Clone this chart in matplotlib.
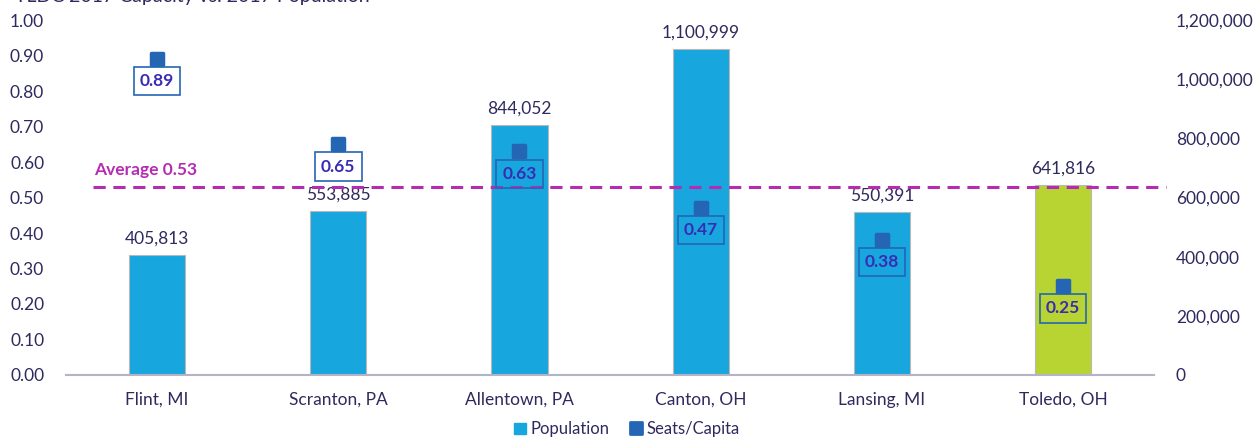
import matplotlib

matplotlib.use("Agg")
import matplotlib.pyplot as plt
from matplotlib.lines import Line2D
from matplotlib.markers import MarkerStyle
from matplotlib.patches import Patch
from matplotlib.ticker import FuncFormatter

cities = ["Flint, MI", "Scranton, PA", "Allentown, PA", "Canton, OH", "Lansing, MI", "Toledo, OH"]
population = [405813, 553885, 844052, 1100999, 550391, 641816]
seats_per_capita = [0.89, 0.65, 0.63, 0.47, 0.38, 0.25]
average = 0.53

bar_blue = "#17A6DE"
toledo_green = "#B8D432"
marker_blue = "#2566B4"
label_purple = "#3A2BB5"
avg_color = "#B52CB2"
text_color = "#2E2A5E"

plt.rcParams["font.family"] = ["Lato", "DejaVu Sans"]

fig = plt.figure(figsize=(12.54, 4.38), dpi=100)
ax = fig.add_axes([0.053, 0.144, 0.867, 0.810])
ax2 = ax.twinx()

x = list(range(len(cities)))
colors = [bar_blue] * (len(cities) - 1) + [toledo_green]

# population bars on the right axis
ax2.bar(x, population, width=0.31, color=colors, edgecolor="#B8B8B8", linewidth=0.8, zorder=2)
for xi, p in zip(x, population):
    ax2.annotate(f"{p:,}", (xi, p), xytext=(0, 6), textcoords="offset points",
                 ha="center", va="bottom", fontsize=12.5, color=text_color)
ax2.set_ylim(0, 1200000)
ax2.set_yticks(range(0, 1200001, 200000))
ax2.yaxis.set_major_formatter(FuncFormatter(lambda v, _: f"{int(v):,}"))

# seats per capita markers on the left axis
ax.set_zorder(ax2.get_zorder() + 1)
ax.patch.set_visible(False)
rounded_square = MarkerStyle("s", joinstyle="round")
ax.scatter(x, seats_per_capita, marker=rounded_square, s=70, color=marker_blue,
           edgecolors=marker_blue, linewidths=2.5, zorder=4)
for xi, v in zip(x, seats_per_capita):
    ax.annotate(f"{v:.2f}", (xi, v), xytext=(0, -16), textcoords="offset points",
                ha="center", va="center", fontsize=12.5, fontweight="bold", color=label_purple,
                bbox=dict(boxstyle="square,pad=0.35", fc="none", ec=marker_blue, lw=1.2), zorder=5)

ax.plot([-0.354, 5.57], [average, average], ls=(0, (4, 2.5)), lw=2.2, color=avg_color,
        clip_on=False, zorder=3)
ax.text(-0.345, average + 0.025, f"Average {average:.2f}", fontsize=12.5, fontweight="bold",
        color=avg_color, ha="left", va="bottom")

ax.set_ylim(0, 1.0)
ax.set_yticks([i / 10 for i in range(11)])
ax.yaxis.set_major_formatter(FuncFormatter(lambda v, _: f"{v:.2f}"))
ax.set_xlim(-0.5, len(cities) - 0.5)
ax.set_xticks(x)
ax.set_xticklabels(cities)

for a in (ax, ax2):
    for s in a.spines.values():
        s.set_visible(False)
    a.tick_params(length=0, labelsize=12.5, labelcolor=text_color)
ax.tick_params(axis="y", pad=16)
ax2.tick_params(axis="y", pad=16)
ax.tick_params(axis="x", pad=12)
ax.spines["bottom"].set_visible(True)
ax.spines["bottom"].set_color("#B4B4C8")
ax.spines["bottom"].set_linewidth(1.5)

handles = [Patch(color=bar_blue, label="Population"),
           Line2D([], [], marker=rounded_square, ls="none", color=marker_blue, markersize=8,
                  markeredgewidth=2, label="Seats/Capita")]
fig.legend(handles=handles, loc="center", bbox_to_anchor=(0.5, 0.02), ncol=2, frameon=False,
           fontsize=12, labelcolor=text_color, handlelength=0.7, handletextpad=0.3, columnspacing=1.2)

fig.text(0.012, 0.995, "TLDC 2017 Capacity vs. 2017 Population", fontsize=14, color=text_color,
         ha="left", va="baseline")

fig.savefig("out.png", dpi=100)
